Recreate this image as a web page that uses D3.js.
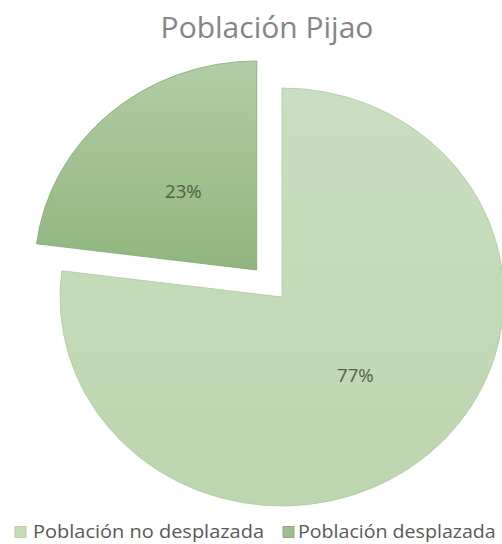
<!DOCTYPE html>
<meta charset="utf-8">
<style>
body { margin: 0; background: #fff; }
svg { display: block; font-family: "Open Sans", sans-serif; }
</style>
<svg width="502" height="544"></svg>
<script src="https://cdn.jsdelivr.net/npm/d3@7"></script>
<script>
const svg = d3.select("svg");

const categories = ["Población no desplazada", "Población desplazada"];
const values = [77, 23];
const labels = ["77%", "23%"];
const title = "Población Pijao";

const fills = ["#c5dbba", "#9fc08e"];
const cx = 282, cy = 297, r = 209, sx = 1.062, explode = 36;

// gradients, roughly like the office look
const defs = svg.append("defs");
const g0 = defs.append("linearGradient").attr("id", "gr0").attr("x1", 0).attr("y1", 0).attr("x2", 0).attr("y2", 1);
g0.append("stop").attr("offset", "0%").attr("stop-color", "#c9dec0");
g0.append("stop").attr("offset", "100%").attr("stop-color", "#bcd6ae");
const g1 = defs.append("linearGradient").attr("id", "gr1").attr("x1", 0).attr("y1", 0).attr("x2", 0).attr("y2", 1);
g1.append("stop").attr("offset", "0%").attr("stop-color", "#b2cda5");
g1.append("stop").attr("offset", "100%").attr("stop-color", "#90b57e");

svg.append("text")
  .attr("x", 267).attr("y", 38)
  .attr("text-anchor", "middle")
  .attr("font-size", 30)
  .attr("fill", "#858585")
  .text(title);

const pie = d3.pie().sort(null).value(d => d);
const arcs = pie(values);
const arc = d3.arc().innerRadius(0).outerRadius(r);
const lab = d3.arc().innerRadius(r * 0.5).outerRadius(r * 0.5);

const g = svg.append("g").attr("transform", `translate(${cx},${cy}) scale(${sx},1)`);

const slice = g.selectAll("g.slice").data(arcs).enter().append("g")
  .attr("class", "slice")
  .attr("transform", (d, i) => {
    if (i === 0) return null;
    const a = (d.startAngle + d.endAngle) / 2;
    return `translate(${Math.sin(a) * explode},${-Math.cos(a) * explode})`;
  });

slice.append("path")
  .attr("d", arc)
  .attr("fill", (d, i) => `url(#gr${i})`)
  .attr("stroke", (d, i) => i === 0 ? "#b0c9a3" : "#86a876")
  .attr("stroke-width", 0.8);

slice.append("text")
  .attr("transform", d => {
    const c = lab.centroid(d);
    return `translate(${c[0]},${c[1]})`;
  })
  .attr("text-anchor", "middle")
  .attr("dy", "0.35em")
  .attr("font-size", 17.5)
  .attr("fill", "#4f6346")
  .text((d, i) => labels[i]);

// legend
const legX = [15, 283];
const leg = svg.append("g").selectAll("g").data(categories).enter().append("g")
  .attr("transform", (d, i) => `translate(${legX[i]},532)`);
leg.append("rect")
  .attr("x", 0).attr("y", -5.5).attr("width", 11).attr("height", 11)
  .attr("fill", (d, i) => fills[i])
  .attr("stroke", (d, i) => i === 0 ? "#a9c59b" : "#7e9f6d")
  .attr("stroke-width", 0.8);
leg.append("text")
  .attr("transform", (d, i) => `translate(${i === 0 ? 18 : 15},0) scale(${i === 0 ? 1.08 : 1.06},1)`)
  .attr("dy", "0.35em")
  .attr("font-size", 18.5)
  .attr("fill", "#595959")
  .text(d => d);
</script>
